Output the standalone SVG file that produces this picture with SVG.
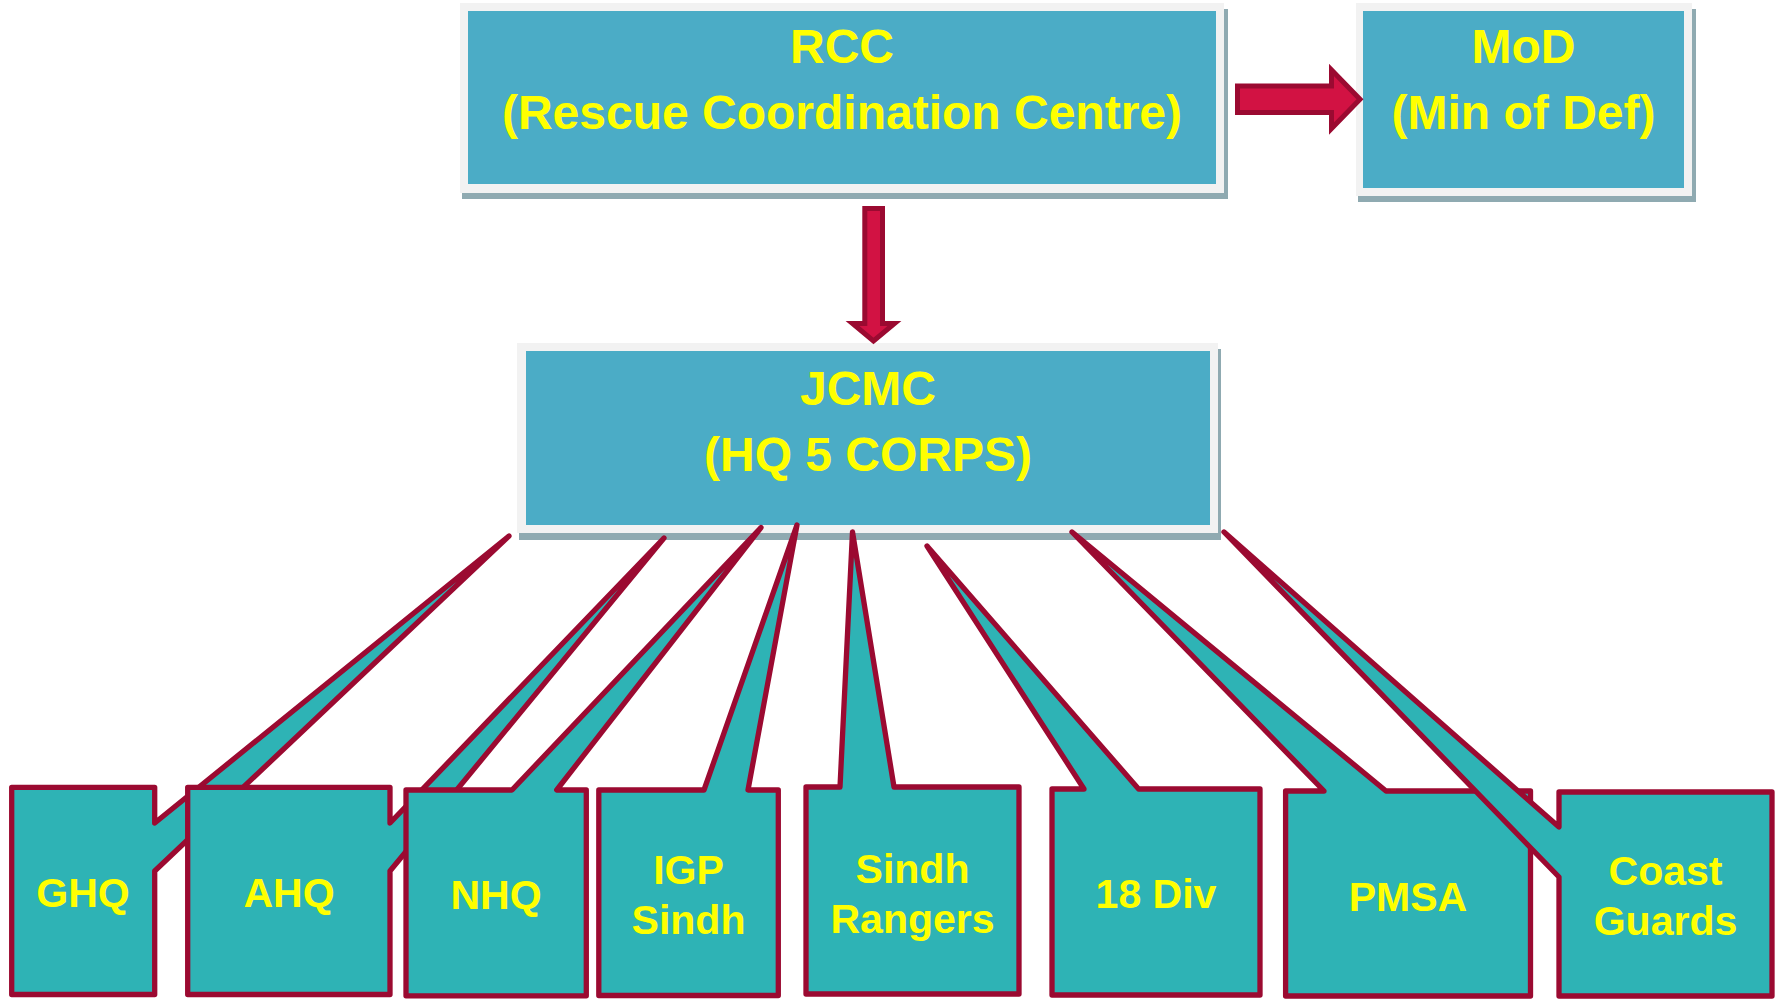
<svg xmlns="http://www.w3.org/2000/svg" width="1775" height="999" viewBox="0 0 1775 999">
<style>
.shadow{fill:#8FAAB1}
.frame{fill:#F2F2F2}
.top{fill:#4BACC6}
.call{fill:#2EB3B5;stroke:#9B0A31;stroke-width:5.3;stroke-linejoin:round}
.arrow{fill:#D21243;stroke:#9B0A31;stroke-width:5;stroke-linejoin:miter}
text{font-family:"Liberation Sans",Arial,sans-serif;font-weight:bold;fill:#FFFF00;text-anchor:middle}
.big{font-size:48px}
.small{font-size:41px}
</style>
<rect width="1775" height="999" fill="#FFFFFF"/>
<g id="rcc">
<rect class="shadow" x="462" y="9" width="766" height="190"/>
<rect class="frame" x="460" y="3" width="764" height="190"/>
<rect class="top" x="468" y="11" width="748" height="173"/>
<text class="big" x="842" y="63">RCC</text>
<text class="big" x="842" y="129">(Rescue Coordination Centre)</text>
</g>
<g id="mod">
<rect class="shadow" x="1358" y="9" width="338" height="193"/>
<rect class="frame" x="1356" y="3" width="336" height="193"/>
<rect class="top" x="1363" y="11" width="321" height="177"/>
<text class="big" x="1523.5" y="63">MoD</text>
<text class="big" x="1523.5" y="129">(Min of Def)</text>
</g>
<g id="jcmc">
<rect class="shadow" x="519" y="349" width="702" height="191"/>
<rect class="frame" x="517" y="343" width="701" height="190"/>
<rect class="top" x="526" y="351" width="684" height="174"/>
<text class="big" x="868" y="405">JCMC</text>
<text class="big" x="868" y="471">(HQ 5 CORPS)</text>
</g>
<g id="connectors">
<polygon class="arrow" points="1237.5,86 1331.5,86 1331.5,70 1360,99.3 1331.5,128.5 1331.5,112.5 1237.5,112.5"/>
<polygon class="arrow" points="864.8,208.5 882.5,208.5 882.5,323.5 894.5,323.5 873.5,341 852.5,323.5 864.8,323.5"/>
</g>
<g id="ghq">
<path class="call" d="M11.7 787.3 H154.7 V823 L509 536 L154.7 871 V994.5 H11.7 Z"/>
<text class="small" x="83" y="906.7">GHQ</text>
</g>
<g id="ahq">
<path class="call" d="M187.7 787.3 H390 V823 L664 538 L390 871 V994.5 H187.7 Z"/>
<text class="small" x="289" y="906.7">AHQ</text>
</g>
<g id="nhq">
<path class="call" d="M406 790 H512 L761 527.5 L556.7 790 H586.3 V995.8 H406 Z"/>
<text class="small" x="496" y="909">NHQ</text>
</g>
<g id="igp-sindh">
<path class="call" d="M598.8 790 H704 L797 525 L748 790 H778.3 V995.5 H598.8 Z"/>
<text class="small" x="688.5" y="884">IGP</text>
<text class="small" x="688.5" y="934">Sindh</text>
</g>
<g id="sindh-rangers">
<path class="call" d="M806 787 H840 L852.5 532 L894 787 H1019 V994 H806 Z"/>
<text class="small" x="912.5" y="883">Sindh</text>
<text class="small" x="912.5" y="933">Rangers</text>
</g>
<g id="div18">
<path class="call" d="M1052 789 H1084 L927 546 L1138.6 789 H1260 V995 H1052 Z"/>
<text class="small" x="1156" y="908.3">18 Div</text>
</g>
<g id="pmsa">
<path class="call" d="M1285.6 791 H1324 L1072 532 L1386 791 H1530.5 V996 H1285.6 Z"/>
<text class="small" x="1408" y="910.7">PMSA</text>
</g>
<g id="coast-guards">
<path class="call" d="M1559 792 H1772 V996 H1559 V877 L1224 532 L1559 827 Z"/>
<text class="small" x="1665.5" y="885">Coast</text>
<text class="small" x="1665.5" y="935">Guards</text>
</g>
</svg>
